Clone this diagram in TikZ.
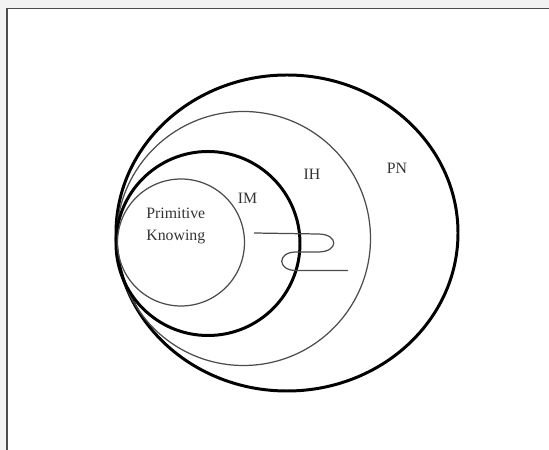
\documentclass[tikz,border=0pt]{standalone}
\usepackage{fontspec}
\setmainfont{Liberation Serif}
\begin{document}
\begin{tikzpicture}[scale=0.2,
		bold ring/.style={black, line width=1.7pt},
		thin ring/.style={black!70, line width=0.7pt},
		label text/.style={black!80, font=\fontsize{9}{12.3}\selectfont}]
		\tikzstyle{every node}+=[inner sep=0pt]
		\useasboundingbox (0,0) rectangle (54.9,-45);
		\fill [black!5] (0,0) rectangle (54.9,-0.8);
		\fill [black!5] (0,-0.8) rectangle (0.65,-45);
		\draw [black!70, line width=0.8pt] (0.7,-45) -- (0.7,-0.87) -- (54.9,-0.87);
		\draw [bold ring] (28.7,-23.3) ellipse (17.1 and 15.8);
		\draw [thin ring] (24.35,-23.85) circle (12.7);
		\draw [bold ring] (20.8,-24.35) circle (9.2);
		\draw [thin ring] (18.1,-24.25) circle (6.35);
		\draw (14.6,-22.58) node (pk) [label text, anchor=west, align=left] {Primitive\\Knowing};
		\draw (24.75,-19.8) node (im) [label text] {IM};
		\draw (31.2,-17.4) node (ih) [label text] {IH};
		\draw (39.7,-16.8) node (pn) [label text] {PN};
		\draw [thin ring] (25.4,-23.3) -- (31.8,-23.4) .. controls (33.9,-23.4) and (33.9,-25.2) .. (31.8,-25.2)
			-- (29.6,-25.2) .. controls (27.7,-25.2) and (27.7,-27.05) .. (29.6,-27.05) -- (34.8,-27.05);
	\end{tikzpicture}
\end{document}
